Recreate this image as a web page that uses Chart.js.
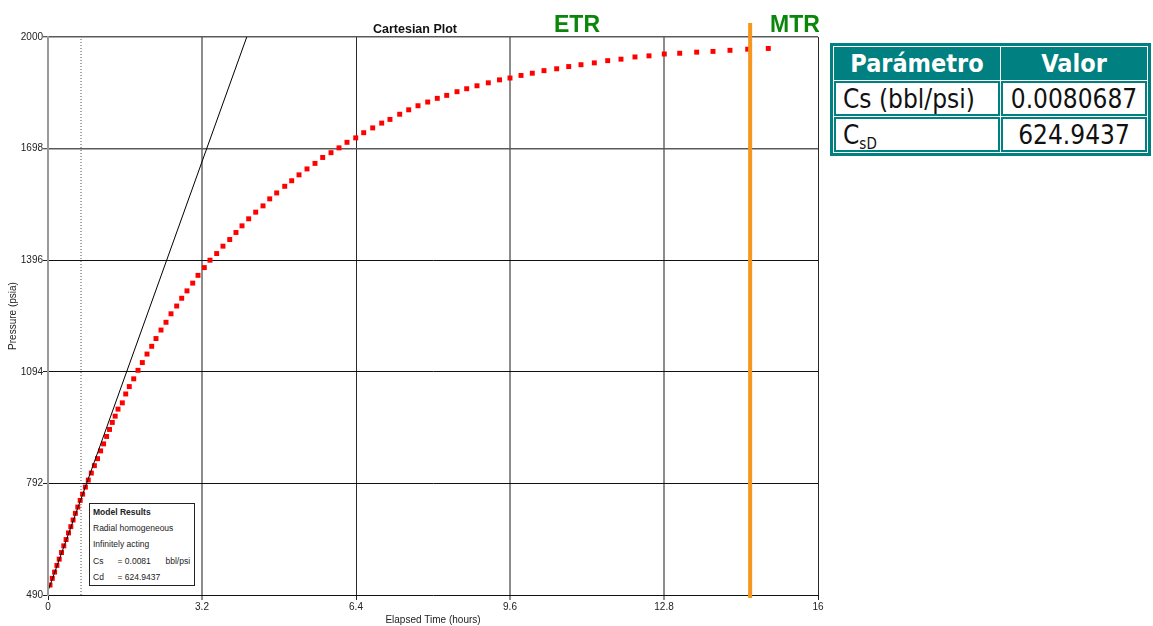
<!DOCTYPE html>
<html>
<head>
<meta charset="utf-8">
<script src="https://cdn.jsdelivr.net/npm/chart.js@4.4.0/dist/chart.umd.min.js"></script>
<style>
body { margin:0; background:#fff; width:1153px; height:626px; position:relative; overflow:hidden; font-family:"Liberation Sans", Arial, sans-serif; }
#dvCanvas { position:absolute; left:0; top:0; }
.lbl { position:absolute; white-space:nowrap; line-height:1; }
#plotTitle { left:315px; width:200px; top:23px; text-align:center; font-weight:bold; font-size:12.5px; color:#111; }
.zone { top:13px; width:80px; text-align:center; font-weight:bold; font-size:23px; color:#0a870a; }
#etr { left:537px; }
#mtr { left:755px; }
#model { position:absolute; left:89px; top:503px; width:101px; height:81px; border:1px solid #222; background:#fff;
  font-size:8.5px; line-height:16.2px; color:#222; padding-left:3px; box-sizing:content-box; }
#model span { display:inline-block; }
#model .c1 { width:24.5px; }
#model .c2 { width:48px; }
#params { position:absolute; left:830px; top:43px; border:3px solid #008080; border-spacing:1px; background:#fff;
  font-family:"DejaVu Sans Condensed", "Noto Sans", sans-serif; }
#params th { background:#008080; color:#fff; font-size:25px; font-weight:bold; height:33px; padding:0; }
#params td { font-size:26px; color:#111; height:35px; padding:0; box-shadow: inset 0 0 0 2px #008080; }
#params td.name { text-align:left; padding-left:9px; }
#params td.val { text-align:center; }
#params sub { font-size:15px; vertical-align:-5px; line-height:0; }
</style>
</head>
<body>
<canvas id="dvCanvas" width="830" height="626"></canvas>
<div id="plotTitle" class="lbl">Cartesian Plot</div>
<div id="etr" class="lbl zone">ETR</div>
<div id="mtr" class="lbl zone">MTR</div>
<div id="model">
  <div><b>Model Results</b></div>
  <div>Radial homogeneous</div>
  <div>Infinitely acting</div>
  <div><span class="c1">Cs</span><span class="c2">= 0.0081</span><span>bbl/psi</span></div>
  <div><span class="c1">Cd</span><span class="c2">= 624.9437</span></div>
</div>
<table id="params">
  <tr><th style="width:166px">Parámetro</th><th style="width:146px">Valor</th></tr>
  <tr><td class="name">Cs (bbl/psi)</td><td class="val">0.0080687</td></tr>
  <tr><td class="name">C<sub>sD</sub></td><td class="val">624.9437</td></tr>
</table>
<script>
var xTicks = [0, 3.2, 6.4, 9.6, 12.8, 16];
var yTicks = [490, 792, 1094, 1396, 1698, 2000];

// measured pressure vs elapsed time
var timeHours = [0.042,0.089,0.137,0.185,0.233,0.281,0.328,0.376,0.426,0.474,0.522,0.569,0.619,0.669,0.719,0.777,0.837,
  0.900,0.964,1.029,1.093,1.155,1.218,1.278,1.336,1.396,1.455,
  1.544,1.615,1.689,1.781,1.870,1.960,2.057,2.155,2.244,2.348,2.452,2.556,2.674,2.778,2.888,3.007,3.117,3.248,3.366,
  3.505,3.636,3.776,3.906,4.031,4.170,4.316,4.468,4.607,4.752,4.919,5.064,5.216,5.382,5.548,5.708,
  5.881,6.047,6.213,6.394,6.560,6.747,6.934,7.106,7.308,7.495,7.688,7.890,8.089,8.285,8.499,8.700,8.914,9.149,9.382,
  9.600,9.829,10.063,10.306,10.570,10.820,11.075,11.352,11.630,11.906,12.197,12.488,12.806,13.126,13.479,13.818,14.171,14.539,14.967];
var pressurePsia = [517,535,552,570,587,605,623,640,658,675,693,711,728,746,763,782,801,
  820,840,859,880,899,919,938,957,974,993,
  1010,1034,1054,1075,1098,1119,1142,1163,1184,1207,1228,1251,1272,1293,1313,1334,1355,1376,1396,
  1414,1434,1452,1471,1489,1508,1526,1543,1562,1578,1596,1611,1627,1643,1658,1674,
  1687,1700,1715,1727,1741,1754,1767,1777,1791,1803,1814,1824,1834,1842,1852,1860,1868,1876,1884,
  1889,1896,1902,1909,1914,1920,1925,1930,1936,1940,1946,1949,1954,1956,1959,1961,1964,1967,1969];

// unit slope (wellbore storage) line
var slopeT = [0, 4.13];
var slopeP = [501, 2000];
// dotted marker and end of ETR
var dottedT = [0.686, 0.686];
var dottedP = [490, 2000];
var mtrT = [14.59, 14.59];
var mtrP = [482, 2038];

function pts(xs, ys) {
    return xs.map(function (x, i) { return { x: x, y: ys[i] }; });
}

var axisFont = { family: 'Liberation Sans', size: 10 };

var ctx = document.getElementById('dvCanvas').getContext('2d');
var myChart = new Chart(ctx, {
    type: 'scatter',
    data: {
        datasets: [
            { data: pts(mtrT, mtrP), showLine: true, borderColor: '#f7961e', borderWidth: 4, pointRadius: 0, clip: false, order: 0 },
            { data: pts(slopeT, slopeP), showLine: true, borderColor: '#000', borderWidth: 1, pointRadius: 0, order: 1 },
            { data: pts(timeHours, pressurePsia), pointStyle: 'rect', pointRadius: 3.5, backgroundColor: '#ff0000', borderWidth: 0, order: 2 },
            { data: pts(dottedT, dottedP), showLine: true, borderColor: '#555', borderWidth: 1, borderDash: [1, 2], pointRadius: 0, order: 3 }
        ]
    },
    options: {
        responsive: false,
        animation: false,
        devicePixelRatio: 1,
        layout: { padding: { left: 0, top: 37, right: 12, bottom: 0 } },
        plugins: { legend: { display: false }, tooltip: { enabled: false } },
        scales: {
            x: {
                type: 'linear', min: 0, max: 16,
                afterBuildTicks: function (s) { s.ticks = xTicks.map(function (v) { return { value: v }; }); },
                afterFit: function (s) { s.height = 31; },
                ticks: { callback: function (v) { return String(v); }, maxRotation: 0, autoSkip: false, padding: 1, font: axisFont, color: '#222' },
                grid: {
                    color: function (c) {
                        var v = c.tick ? c.tick.value : null;
                        if (v === 0) return 'rgba(0,0,0,0)';
                        if (v === 3.2 || v === 9.6 || v === 12.8) return '#8c8c8c';
                        return '#2a2a2a';
                    },
                    lineWidth: function (c) {
                        var v = c.tick ? c.tick.value : null;
                        return (v === 3.2 || v === 9.6 || v === 12.8) ? 2 : 1;
                    },
                    tickLength: 5, tickColor: '#222', tickWidth: 1
                },
                border: { color: '#111', width: 1 },
                title: { display: true, text: 'Elapsed Time (hours)', font: axisFont, color: '#222', padding: { top: 0, bottom: 0 } }
            },
            y: {
                type: 'linear', min: 490, max: 2000,
                afterBuildTicks: function (s) { s.ticks = yTicks.map(function (v) { return { value: v }; }); },
                afterFit: function (s) { s.width = 48; },
                ticks: { callback: function (v) { return String(v); }, autoSkip: false, padding: 0, font: axisFont, color: '#222' },
                grid: {
                    color: function (c) {
                        var v = c.tick ? c.tick.value : null;
                        if (v === 490) return 'rgba(0,0,0,0)';
                        if (v === 2000 || v === 1698) return '#5a5a5a';
                        return '#111';
                    },
                    lineWidth: function (c) {
                        var v = c.tick ? c.tick.value : null;
                        return (v === 2000 || v === 1698) ? 1.5 : 1;
                    },
                    tickLength: 5, tickColor: '#222', tickWidth: 1
                },
                border: { color: '#9a9a9a', width: 2, z: 1 },
                title: { display: true, text: 'Pressure (psia)', font: axisFont, color: '#222', padding: { top: 7, bottom: 0 } }
            }
        }
    }
});
</script>
</body>
</html>
